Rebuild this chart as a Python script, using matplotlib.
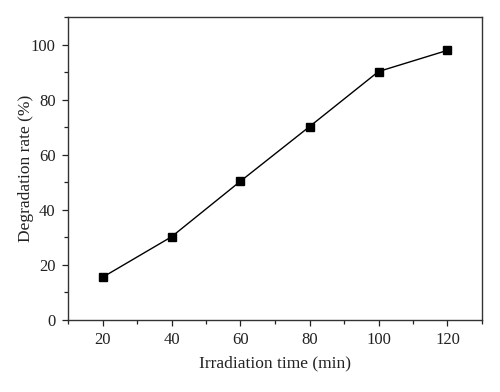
import matplotlib
matplotlib.use("Agg")
import matplotlib.pyplot as plt
from matplotlib.ticker import MultipleLocator

time_min = [20, 40, 60, 80, 100, 120]
degradation = [15.5, 30.2, 50.4, 70.2, 90.2, 97.9]

plt.rcParams['font.family'] = ['Liberation Serif', 'DejaVu Serif']

fig = plt.figure(figsize=(5.0, 3.92), dpi=100)
ax = fig.add_axes([68/500, 1 - 320/392, (482 - 68)/500, (320 - 17)/392])

ax.plot(time_min, degradation, color='black', linewidth=1.0,
        marker='s', markersize=5.5, markerfacecolor='black', markeredgecolor='black')

ax.set_xlim(10, 130)
ax.set_ylim(0, 110)
ax.xaxis.set_major_locator(MultipleLocator(20))
ax.xaxis.set_minor_locator(MultipleLocator(10))
ax.yaxis.set_major_locator(MultipleLocator(20))
ax.yaxis.set_minor_locator(MultipleLocator(10))
ax.tick_params(which='both', direction='out', top=False, right=False, labelsize=12, colors='#222222')
ax.tick_params(which='major', length=4, width=0.9, pad=5)
ax.tick_params(which='minor', length=3, width=0.9)
for s in ax.spines.values():
    s.set_linewidth(1.0)
    s.set_color('#333333')

ax.set_xlabel('Irradiation time (min)', fontsize=12.5, labelpad=5, color='#222222')
ax.set_ylabel('Degradation rate (%)', fontsize=12.5, color='#222222')
ax.yaxis.set_label_coords(-0.083, 0.5)

fig.savefig('out.png', dpi=100)
